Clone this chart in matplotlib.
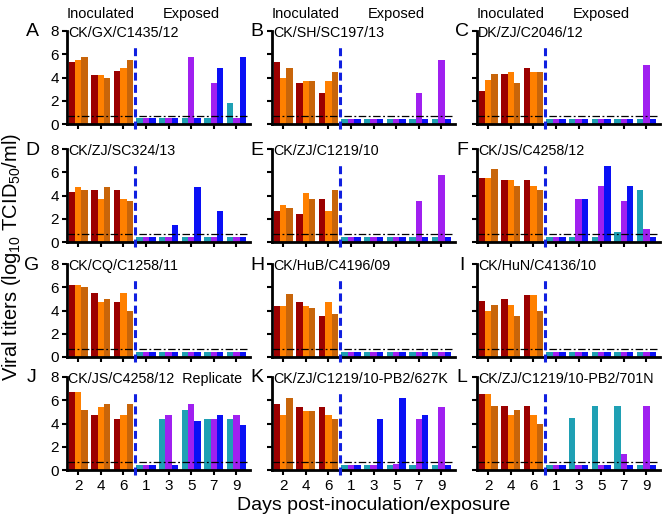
import matplotlib
matplotlib.use("Agg")
import matplotlib.pyplot as plt
import numpy as np

plt.rcParams['font.family'] = ['Liberation Sans', 'DejaVu Sans']
plt.rcParams['mathtext.fontset'] = 'custom'
plt.rcParams['mathtext.rm'] = 'Liberation Sans'
plt.rcParams['mathtext.it'] = 'Liberation Sans'

letters = ["A", "B", "C", "D", "E", "F", "G", "H", "I", "J", "K", "L"]
strains = ["CK/GX/C1435/12", "CK/SH/SC197/13", "DK/ZJ/C2046/12",
           "CK/ZJ/SC324/13", "CK/ZJ/C1219/10", "CK/JS/C4258/12",
           "CK/CQ/C1258/11", "CK/HuB/C4196/09", "CK/HuN/C4136/10",
           "CK/JS/C4258/12  Replicate", "CK/ZJ/C1219/10-PB2/627K", "CK/ZJ/C1219/10-PB2/701N"]
tick_labels = ["2", "4", "6", "1", "3", "5", "7", "9"]

# inoculated: days 2,4,6 ; each [bird1, bird2, bird3]
inoculated = [
    [[5.3, 5.5, 5.8], [4.2, 4.2, 4.0], [4.6, 4.8, 5.5]],
    [[5.3, 4.0, 4.8], [3.5, 3.7, 3.7], [2.7, 3.7, 4.5]],
    [[2.8, 3.8, 4.3], [4.3, 4.5, 3.5], [4.8, 4.5, 4.5]],
    [[4.3, 4.7, 4.5], [4.5, 3.7, 4.7], [4.5, 3.7, 3.5]],
    [[2.7, 3.2, 2.9], [2.4, 4.2, 3.7], [3.7, 2.7, 4.5]],
    [[5.5, 5.5, 6.3], [5.3, 5.3, 4.8], [5.3, 4.8, 4.5]],
    [[6.2, 6.2, 6.0], [5.5, 4.7, 5.0], [4.7, 5.5, 4.0]],
    [[4.4, 4.4, 5.4], [4.7, 4.4, 4.2], [3.5, 4.7, 3.7]],
    [[4.8, 4.0, 4.5], [5.0, 4.5, 3.5], [5.3, 5.3, 4.0]],
    [[6.7, 6.7, 5.2], [4.7, 5.4, 5.7], [4.4, 4.7, 5.7]],
    [[5.7, 4.7, 6.2], [5.4, 5.1, 5.1], [5.4, 4.7, 4.4]],
    [[6.5, 6.5, 5.5], [5.5, 4.7, 5.2], [5.5, 4.7, 4.0]],
]
# exposed: days 1,3,5,7,9 ; each [bird1, bird2, bird3]
exposed = [
    [[0.5, 0.5, 0.5], [0.5, 0.5, 0.5], [0.5, 5.8, 0.5], [0.5, 3.5, 4.8], [1.8, 0.5, 5.8]],
    [[0.4, 0.4, 0.4], [0.4, 0.4, 0.4], [0.4, 0.4, 0.4], [0.4, 2.7, 0.4], [0.4, 5.5, 0.4]],
    [[0.4, 0.4, 0.4], [0.4, 0.4, 0.4], [0.4, 0.4, 0.4], [0.4, 0.4, 0.4], [0.4, 5.1, 0.4]],
    [[0.4, 0.4, 0.4], [0.4, 0.4, 1.5], [0.4, 0.4, 4.7], [0.4, 0.4, 2.7], [0.4, 0.4, 0.4]],
    [[0.4, 0.4, 0.4], [0.4, 0.4, 0.4], [0.4, 0.4, 0.4], [0.4, 3.5, 0.4], [0.4, 5.8, 0.4]],
    [[0.4, 0.4, 0.4], [0.4, 3.7, 3.7], [0.4, 4.8, 6.5], [0.9, 3.5, 4.8], [4.5, 1.1, 0.4]],
    [[0.4, 0.4, 0.4], [0.4, 0.4, 0.4], [0.4, 0.4, 0.4], [0.4, 0.4, 0.4], [0.4, 0.4, 0.4]],
    [[0.4, 0.4, 0.4], [0.4, 0.4, 0.4], [0.4, 0.4, 0.4], [0.4, 0.4, 0.4], [0.4, 0.4, 0.4]],
    [[0.4, 0.4, 0.4], [0.4, 0.4, 0.4], [0.4, 0.4, 0.4], [0.4, 0.4, 0.4], [0.4, 0.4, 0.4]],
    [[0.4, 0.4, 0.4], [4.4, 4.7, 0.4], [5.2, 5.7, 4.2], [4.4, 4.4, 4.7], [4.4, 4.7, 3.9]],
    [[0.4, 0.4, 0.4], [0.4, 0.4, 4.4], [0.4, 0.5, 6.2], [0.4, 4.4, 4.7], [0.4, 5.4, 0.4]],
    [[0.4, 0.4, 0.4], [4.5, 0.4, 0.4], [5.5, 0.4, 0.4], [5.5, 1.4, 0.4], [0.4, 5.5, 0.4]],
]
detection_limit = 0.65

inoc_colors = ["#9B0000", "#FF8000", "#C8650A"]
exp_colors = ["#1FA0B4", "#A020F0", "#0A10F5"]

W, H = 671, 519
fig = plt.figure(figsize=(W / 100, H / 100), dpi=100)

col_left = [67, 272, 477]
row_bottom = [124, 242, 357, 470]
ax_w, ax_h = 183, 93

bw = 0.85 / 3
offsets = [-bw, 0, bw]

for i in range(12):
    r, c = divmod(i, 3)
    ax = fig.add_axes([col_left[c] / W, (H - row_bottom[r]) / H, ax_w / W, ax_h / H])
    for k in range(3):
        xs = np.arange(3) + offsets[k]
        ax.bar(xs, [g[k] for g in inoculated[i]], width=bw, color=inoc_colors[k], linewidth=0)
        xs2 = np.arange(3, 8) + offsets[k]
        ax.bar(xs2, [g[k] for g in exposed[i]], width=bw, color=exp_colors[k], linewidth=0)
    ax.plot([-0.5, 7.6], [detection_limit, detection_limit], color="black", lw=0.9,
            linestyle=(0, (6, 2, 1.5, 2)), zorder=3)
    ax.plot([2.5, 2.5], [-0.45, 6.8], color="#1020E0", lw=2.2, linestyle=(0, (2.6, 1.4)),
            clip_on=False, zorder=4)
    ax.set_xlim(-0.5, 7.6)
    ax.set_ylim(0, 8)
    ax.set_yticks([0, 2, 4, 6, 8])
    ax.set_xticks(range(8))
    ax.spines['top'].set_visible(False)
    ax.spines['right'].set_visible(False)
    for s in ['left', 'bottom']:
        ax.spines[s].set_linewidth(2.0)
    ax.tick_params(axis='both', direction='out', length=3.5, width=1.5, labelsize=11)
    ax.tick_params(axis='y', pad=2.5)
    ax.tick_params(axis='x', pad=3.0)
    if c == 0:
        ax.set_yticklabels(["0", "2", "4", "6", "8"])
    else:
        ax.set_yticklabels([])
    if r == 3:
        ax.set_xticklabels(tick_labels)
    else:
        ax.set_xticklabels([])
    ax.text(-0.45, 7.8, strains[i], fontsize=10.3, va='center', ha='left')
    lx = -35 if c == 0 else -15
    ax.annotate(letters[i], xy=(0, 1), xycoords='axes fraction', xytext=(lx, -1),
                textcoords='offset pixels', fontsize=14, ha='center', va='center')
    if r == 0:
        ax.text(1.0, 9.45, "Inoculated", fontsize=10.5, ha='center', va='center')
        ax.text(5.0, 9.45, "Exposed", fontsize=10.5, ha='center', va='center')

fig.text(12 / W, 1 - 381 / H, "Viral titers (log$_{10}$ TCID$_{50}$/ml)", rotation=90,
         fontsize=14.5, ha='center', va='bottom')
fig.text(374 / W, 1 - 506 / H, "Days post-inoculation/exposure", fontsize=14,
         ha='center', va='center')

fig.savefig("out.png", dpi=100)
